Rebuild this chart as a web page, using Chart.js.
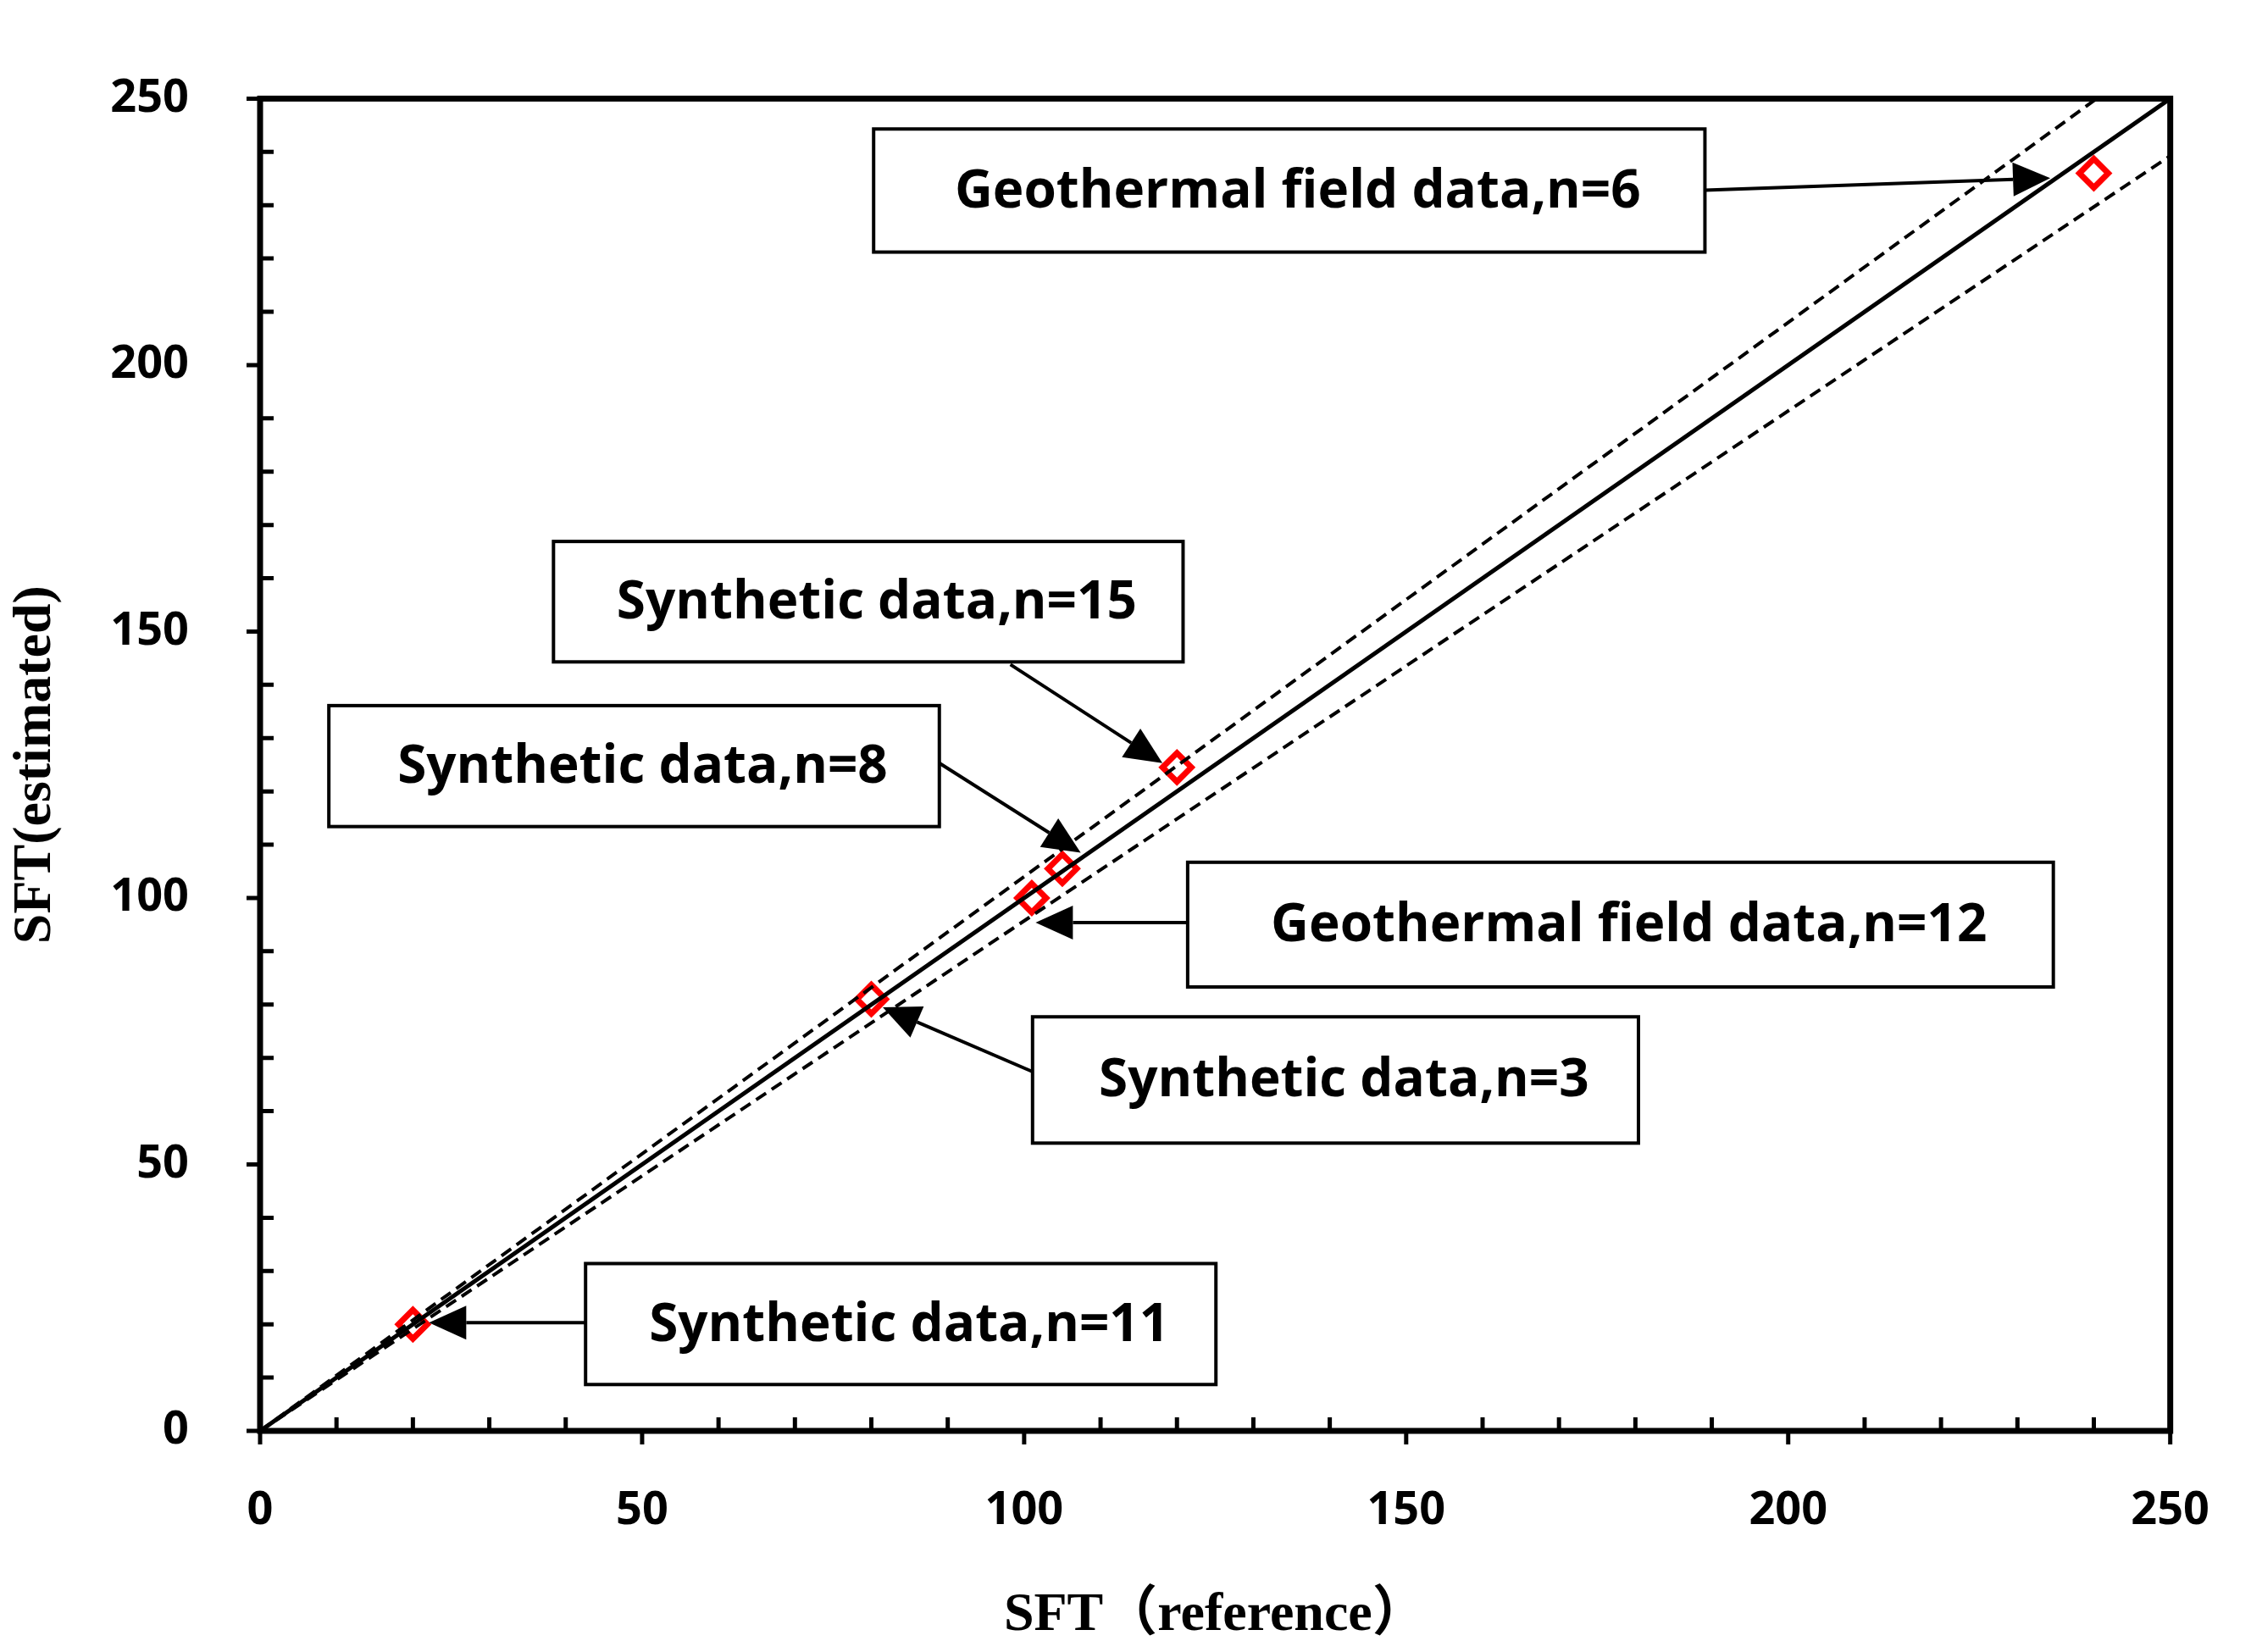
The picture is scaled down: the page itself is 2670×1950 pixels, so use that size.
<!DOCTYPE html>
<html>
<head>
<meta charset="utf-8">
<style>
  html, body { margin: 0; padding: 0; background: #fff; }
</style>
<script src="https://cdn.jsdelivr.net/npm/chart.js@4/dist/chart.umd.min.js"></script>
</head>
<body>
<canvas id="c" width="2670" height="1950" style="width:2670px;height:1950px"></canvas>
<script>
// measured points
const sftReference = [20, 80, 101, 105, 120, 240];
const sftEstimated = [20, 81, 100, 105.5, 124.5, 236];

// 1:1 line and +-4% bounds
const lineX = [0, 250];
const upperSlope = 1.04;
const lowerSlope = 0.957;

// annotation labels, box corners and arrows in data units
const noteText = ["Geothermal field data,n=6", "Synthetic data,n=15", "Synthetic data,n=8",
                  "Geothermal field data,n=12", "Synthetic data,n=3", "Synthetic data,n=11"];
const noteBoxX = [[80.3, 189.1], [38.4, 120.8], [9.0, 88.9], [121.4, 234.7], [101.1, 180.4], [42.6, 125.1]];
const noteBoxY = [[244.3, 221.2], [166.9, 144.3], [136.1, 113.4], [106.7, 83.3], [77.7, 54.0], [31.4, 8.7]];
const arrowFrom = [[189.1, 232.8], [98.2, 143.8], [88.9, 125.3], [121.4, 95.4], [101.1, 67.4], [42.6, 20.3]];
const arrowTo = [[234.3, 235.1], [118.1, 125.3], [107.4, 108.5], [101.5, 95.4], [81.5, 79.5], [22.1, 20.3]];

const tickFont = { family: "'Open Sans', 'DejaVu Sans', sans-serif", size: 54, weight: "bold" };
const titleFont = { family: "'Liberation Serif', 'Noto Sans CJK SC', serif", size: 64, weight: "bold" };

const frame = {
  id: "frame",
  afterDraw(chart) {
    const ctx = chart.ctx, xs = chart.scales.x, ys = chart.scales.y, a = chart.chartArea;
    ctx.save();
    ctx.strokeStyle = "#000";
    // ticks
    ctx.lineWidth = 5;
    for (let v = 0; v <= 250; v += 10) {
      const major = v % 50 === 0;
      const px = xs.getPixelForValue(v), py = ys.getPixelForValue(v);
      ctx.beginPath();
      if (major) { ctx.moveTo(px, a.bottom); ctx.lineTo(px, a.bottom + 16); }
      else { ctx.moveTo(px, a.bottom); ctx.lineTo(px, a.bottom - 16); }
      if (major) { ctx.moveTo(a.left, py); ctx.lineTo(a.left - 16, py); }
      else { ctx.moveTo(a.left, py); ctx.lineTo(a.left + 16, py); }
      ctx.stroke();
    }
    ctx.lineWidth = 7;
    ctx.strokeRect(a.left, a.top, a.right - a.left, a.bottom - a.top);

    // notes
    ctx.font = "bold 62px 'Open Sans', 'DejaVu Sans', sans-serif";
    ctx.textBaseline = "middle";
    ctx.textAlign = "center";
    noteText.forEach((t, i) => {
      const x1 = xs.getPixelForValue(noteBoxX[i][0]), x2 = xs.getPixelForValue(noteBoxX[i][1]);
      const y1 = ys.getPixelForValue(noteBoxY[i][0]), y2 = ys.getPixelForValue(noteBoxY[i][1]);
      ctx.fillStyle = "#fff";
      ctx.fillRect(x1, y1, x2 - x1, y2 - y1);
      ctx.lineWidth = 4;
      ctx.strokeRect(x1, y1, x2 - x1, y2 - y1);
      ctx.fillStyle = "#000";
      ctx.fillText(t, (x1 + x2) / 2 + 10, (y1 + y2) / 2 + 2);

      const fx = xs.getPixelForValue(arrowFrom[i][0]), fy = ys.getPixelForValue(arrowFrom[i][1]);
      const tx = xs.getPixelForValue(arrowTo[i][0]), ty = ys.getPixelForValue(arrowTo[i][1]);
      const ang = Math.atan2(ty - fy, tx - fx), hl = 44, hw = 20;
      const bx = tx - hl * Math.cos(ang), by = ty - hl * Math.sin(ang);
      ctx.lineWidth = 4;
      ctx.beginPath(); ctx.moveTo(fx, fy); ctx.lineTo(bx, by); ctx.stroke();
      ctx.beginPath();
      ctx.moveTo(tx, ty);
      ctx.lineTo(bx + hw * Math.sin(ang), by - hw * Math.cos(ang));
      ctx.lineTo(bx - hw * Math.sin(ang), by + hw * Math.cos(ang));
      ctx.closePath(); ctx.fill();
    });
    ctx.restore();
  }
};

new Chart(document.getElementById("c"), {
  type: "scatter",
  data: {
    datasets: [
      {
        type: "line",
        data: lineX.map(x => ({ x: x, y: x })),
        borderColor: "#000", borderWidth: 5, pointRadius: 0
      },
      {
        type: "line",
        data: lineX.map(x => ({ x: x, y: x * upperSlope })),
        borderColor: "#000", borderWidth: 4, borderDash: [14, 8], pointRadius: 0
      },
      {
        type: "line",
        data: lineX.map(x => ({ x: x, y: x * lowerSlope })),
        borderColor: "#000", borderWidth: 4, borderDash: [14, 8], pointRadius: 0
      },
      {
        data: sftReference.map((x, i) => ({ x: x, y: sftEstimated[i] })),
        pointStyle: "rectRot", pointRadius: 17, borderWidth: 7,
        borderColor: "#ff0000", backgroundColor: "#fff"
      }
    ]
  },
  options: {
    responsive: false,
    animation: false,
    devicePixelRatio: 1,
    layout: { padding: { top: 34, right: 56, left: 0, bottom: 0 } },
    plugins: { legend: { display: false }, tooltip: { enabled: false } },
    scales: {
      x: {
        type: "linear", min: 0, max: 250,
        grid: { display: false, drawTicks: false },
        border: { display: false },
        ticks: { stepSize: 50, font: tickFont, color: "#000", padding: 62 },
        title: { display: true, text: "SFT（reference）", font: titleFont, color: "#000", padding: { top: 20 } },
        afterFit(s) { s.height = 261; }
      },
      y: {
        type: "linear", min: 0, max: 250,
        grid: { display: false, drawTicks: false },
        border: { display: false },
        ticks: { stepSize: 50, font: tickFont, color: "#000", padding: 84 },
        title: { display: true, text: "SFT(estimated)", font: titleFont, color: "#000" },
        afterFit(s) { s.width = 307; }
      }
    }
  },
  plugins: [frame]
});
</script>
</body>
</html>
